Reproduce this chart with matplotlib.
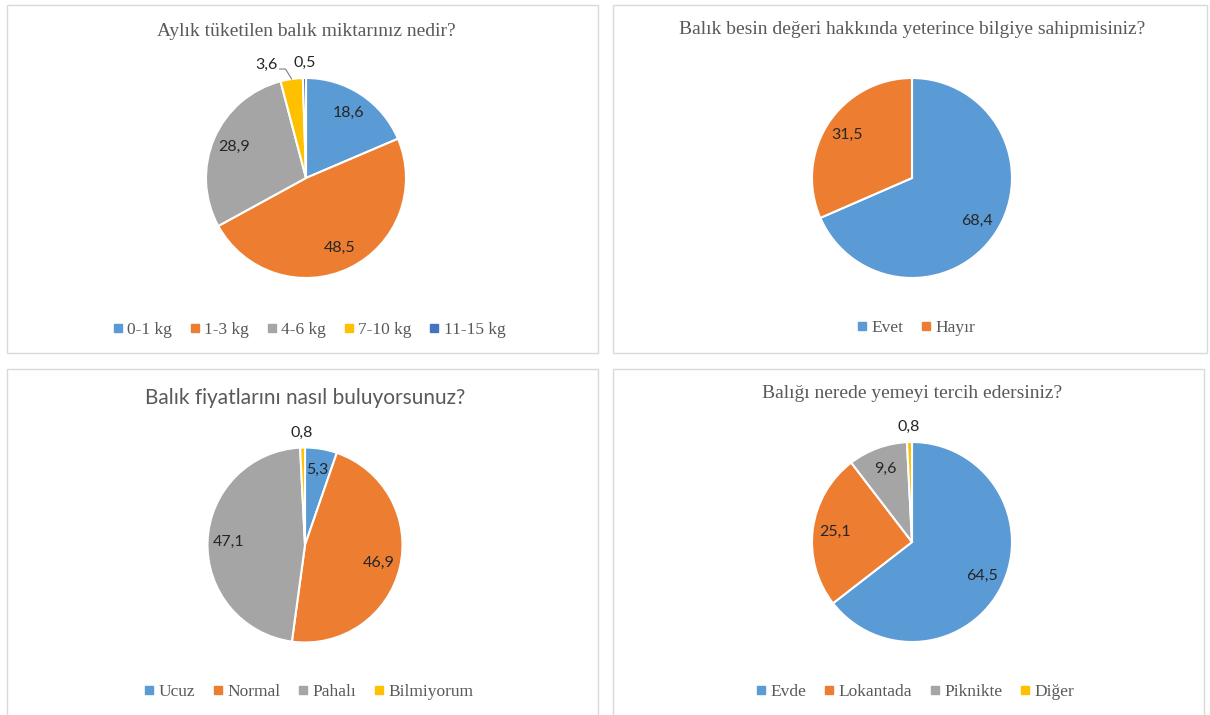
import numpy as np
import matplotlib.pyplot as plt
from matplotlib.lines import Line2D
from matplotlib.patches import Rectangle

W, H = 1210, 715

kg_labels = ["0-1 kg", "1-3 kg", "4-6 kg", "7-10 kg", "11-15 kg"]
kg_values = [18.6, 48.5, 28.9, 3.6, 0.5]

bilgi_labels = ["Evet", "Hayır"]
bilgi_values = [68.4, 31.5]

fiyat_labels = ["Ucuz", "Normal", "Pahalı", "Bilmiyorum"]
fiyat_values = [5.3, 46.9, 47.1, 0.8]

yer_labels = ["Evde", "Lokantada", "Piknikte", "Diğer"]
yer_values = [64.5, 25.1, 9.6, 0.8]

office = ["#5B9BD5", "#ED7D31", "#A5A5A5", "#FFC000", "#4472C4"]
SERIF = ["Liberation Serif", "DejaVu Serif"]
SANS = ["Lato", "DejaVu Sans"]
GREY = "#595959"

fig = plt.figure(figsize=(W / 100, H / 100), dpi=100)


def fmt(v):
    return f"{v:.1f}".replace(".", ",")


def panel(box, center, r, title, title_y, title_font, labels, values, legend_xy, leader=()):
    x0, y0, x1, y1 = box
    fig.add_artist(Rectangle((x0 / W, 1 - y1 / H), (x1 - x0) / W, (y1 - y0) / H,
                             transform=fig.transFigure, fill=False, ec="#D9D9D9", lw=1))
    cx, cy = center
    s = 1.35 * r
    ax = fig.add_axes([(cx - s) / W, 1 - (cy + s) / H, 2 * s / W, 2 * s / H])
    cols = office[:len(values)]
    wedges, _ = ax.pie(values, colors=cols, startangle=90, counterclock=False,
                       wedgeprops=dict(edgecolor="white", linewidth=1.5))
    ax.set_xlim(-1.35, 1.35)
    ax.set_ylim(-1.35, 1.35)
    ax.axis("off")

    for i, (w, v) in enumerate(zip(wedges, values)):
        a = np.deg2rad((w.theta1 + w.theta2) / 2)
        kw = dict(fontsize=11.5, family=SANS, color="#262626", va="center")
        if v >= 4:
            ax.text(0.78 * np.cos(a), 0.78 * np.sin(a), fmt(v), ha="center", **kw)
        elif i in leader:
            xe, ye = np.cos(a), np.sin(a)
            ax.plot([xe, xe - 0.06, xe - 0.12], [ye, ye + 0.1, ye + 0.1],
                    color="#7F7F7F", lw=0.8, clip_on=False)
            ax.text(xe - 0.14, ye + 0.14, fmt(v), ha="right", **kw)
        else:
            ax.text(1.15 * np.cos(a), 1.15 * np.sin(a), fmt(v), ha="center", **kw)

    fig.text(cx / W, 1 - title_y / H, title, ha="center", va="center", color=GREY, **title_font)

    handles = [Line2D([], [], marker="s", ls="", color=c, markersize=5.5) for c in cols]
    fig.legend(handles, labels, loc="center", bbox_to_anchor=(legend_xy[0] / W, 1 - legend_xy[1] / H),
               ncol=len(labels), frameon=False, handlelength=0.6, handletextpad=0.25,
               columnspacing=1.0, prop=dict(family=SERIF, size=12.5), labelcolor=GREY)


serif_title = dict(family=SERIF, fontsize=14)
sans_title = dict(family=SANS, fontsize=15)

panel((7, 5, 598, 353), (306, 178), 100, "Aylık tüketilen balık miktarınız nedir?", 31,
      serif_title, kg_labels, kg_values, (309, 330), leader=(3,))
panel((613, 5, 1207, 353), (912, 178), 100, "Balık besin değeri hakkında yeterince bilgiye sahipmisiniz?", 29,
      serif_title, bilgi_labels, bilgi_values, (916, 328))
panel((7, 369, 598, 722), (305, 545), 97.5, "Balık fiyatlarını nasıl buluyorsunuz?", 398,
      sans_title, fiyat_labels, fiyat_values, (309, 692))
panel((613, 369, 1204, 722), (912, 542), 100, "Balığı nerede yemeyi tercih edersiniz?", 393,
      serif_title, yer_labels, yer_values, (915, 692))

fig.savefig("out.png", dpi=100, facecolor="white")
